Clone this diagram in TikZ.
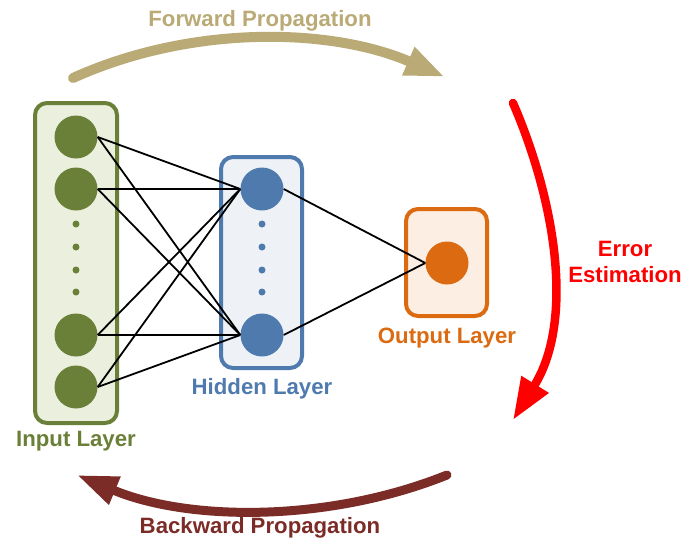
\documentclass[tikz,border=0pt]{standalone}
\usepackage{fontspec}
\setmainfont{Liberation Sans}
\usetikzlibrary{arrows.meta}
\definecolor{ingreen}{RGB}{106,128,56}
\definecolor{infill}{RGB}{235,240,222}
\definecolor{hidblue}{RGB}{79,122,174}
\definecolor{hidfill}{RGB}{238,242,247}
\definecolor{outorange}{RGB}{219,106,16}
\definecolor{outfill}{RGB}{252,238,227}
\definecolor{fwdtan}{RGB}{185,170,118}
\definecolor{bwdred}{RGB}{123,44,39}
\definecolor{errred}{RGB}{255,0,0}
\begin{document}
\begin{tikzpicture}[x=1pt,y=-1pt,
  layerbox/.style={rounded corners=12pt,line width=4pt},
  neuron/.style={circle,minimum size=43pt,inner sep=0pt},
  smalldot/.style={circle,minimum size=7pt,inner sep=0pt},
  conn/.style={line width=1.8pt,black},
  lbl/.style={font=\fontsize{22.2}{25}\selectfont\bfseries},
  bigarrow/.style={line cap=round},
]
\useasboundingbox (0,0) rectangle (683,542);
% boxes
\draw[layerbox,draw=ingreen,fill=infill] (35,103) rectangle (117,423);
\draw[layerbox,draw=hidblue,fill=hidfill] (221,157) rectangle (302,368);
\draw[layerbox,draw=outorange,fill=outfill] (406,209) rectangle (487,316);
% input neurons
\node[neuron,fill=ingreen] (i1) at (76,137) {};
\node[neuron,fill=ingreen] (i2) at (76,189) {};
\node[neuron,fill=ingreen] (i3) at (76,335) {};
\node[neuron,fill=ingreen] (i4) at (76,387) {};
\foreach \y/\n in {224/a,247/b,270/c,292/d}
  \node[smalldot,fill=ingreen] (id\n) at (76,\y) {};
% hidden neurons
\node[neuron,fill=hidblue] (h1) at (262,189) {};
\node[neuron,fill=hidblue] (h2) at (262,335) {};
\foreach \y/\n in {224/a,247/b,270/c,292/d}
  \node[smalldot,fill=hidblue] (hd\n) at (262,\y) {};
% output neuron
\node[neuron,fill=outorange] (o1) at (447,263) {};
% connections
\foreach \i in {i1,i2,i3,i4}
  \foreach \h in {h1,h2}
    \draw[conn] (\i.east) -- (\h.west);
\draw[conn] (h1.east) -- (o1.west);
\draw[conn] (h2.east) -- (o1.west);
% labels
\node[lbl,text=ingreen] (linput) at (76,441) {Input Layer};
\node[lbl,text=hidblue] (lhidden) at (262,389) {Hidden Layer};
\node[lbl,text=outorange] (loutput) at (447,338) {Output Layer};
% arrows
\coordinate (fs) at (73,78);
\coordinate (fe) at (445,77);
\draw[bigarrow,fwdtan,line width=10pt,-{Triangle[length=40pt,width=28pt]}]
  (fs) .. controls (190,25) and (330,27) .. (fe);
\node[lbl,text=fwdtan] (lfwd) at (260,21) {Forward Propagation};
\coordinate (es) at (513,103);
\coordinate (ee) at (513,420);
\draw[bigarrow,errred,line width=8.5pt,-{Triangle[length=42pt,width=30pt]}]
  (es) .. controls (555,200) and (575,320) .. (ee);
\node[lbl,text=errred,align=center] (lerr) at (625,262) {Error\\[1pt]Estimation};
\coordinate (bs) at (447,475);
\coordinate (be) at (77,475);
\draw[bigarrow,bwdred,line width=9pt,-{Triangle[length=41pt,width=28pt]}]
  (bs) .. controls (330,522) and (190,522) .. (be);
\node[lbl,text=bwdred] (lbwd) at (260,528) {Backward Propagation};
\end{tikzpicture}
\end{document}
